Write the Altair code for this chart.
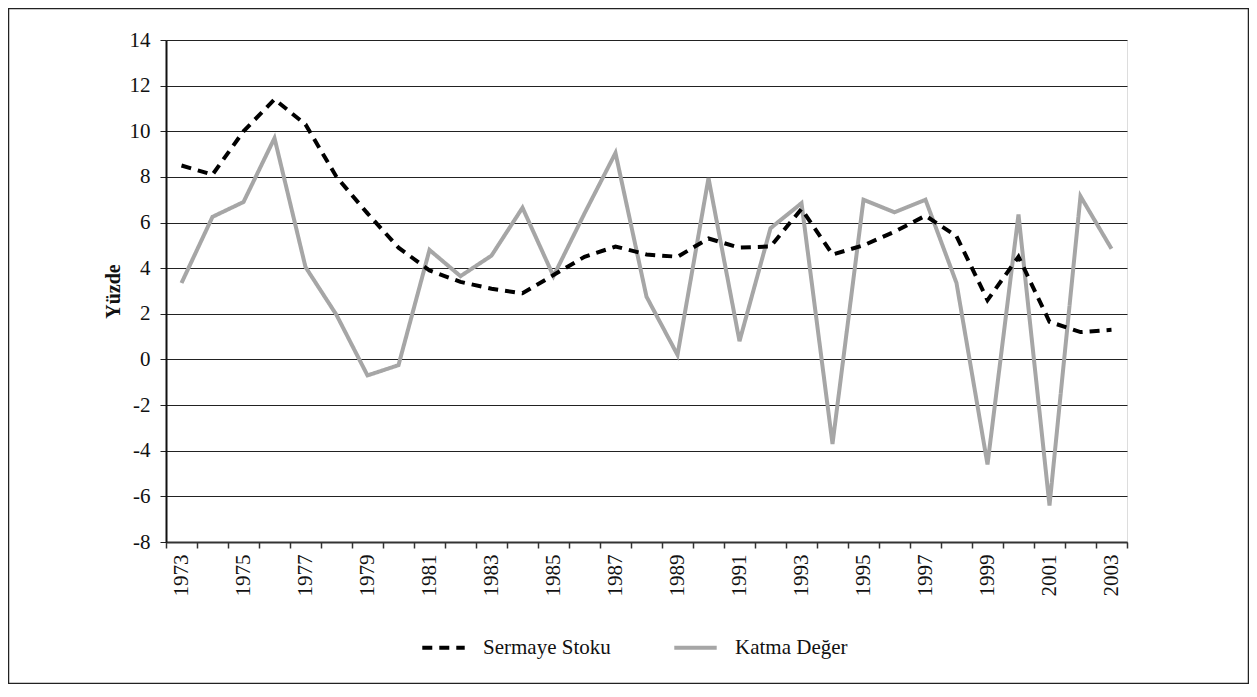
import altair as alt
import pandas as pd

years = list(range(1973, 2004))
sermaye_stoku = [8.5, 8.1, 10.0, 11.4, 10.3, 8.0, 6.4, 4.9, 3.9, 3.4, 3.1, 2.9, 3.7, 4.5, 4.95, 4.6,
                 4.5, 5.3, 4.9, 4.95, 6.6, 4.6, 5.0, 5.6, 6.3, 5.4, 2.6, 4.5, 1.65, 1.2, 1.3]
katma_deger = [3.35, 6.25, 6.9, 9.7, 4.05, 1.95, -0.7, -0.25, 4.8, 3.65, 4.55, 6.65, 3.65, 6.4, 9.05, 2.75,
               0.2, 7.95, 0.8, 5.75, 6.85, -3.7, 7.0, 6.45, 7.0, 3.35, -4.6, 6.35, -6.4, 7.15, 4.85]
series_names = ["Sermaye Stoku", "Katma Değer"]
y_ticks = list(range(-8, 15, 2))

FONT = "Liberation Serif"

df = pd.DataFrame({
    "year": years * 2,
    "value": katma_deger + sermaye_stoku,
    "series": [series_names[1]] * len(years) + [series_names[0]] * len(years),
})

x_enc = alt.X(
    "year:O",
    bandPosition=0.5,
    scale=alt.Scale(type="band", paddingInner=0, paddingOuter=0),
    axis=alt.Axis(
        title=None,
        tickBand="extent",
        labelAngle=270,
        labelExpr="datum.value % 2 == 1 ? '' + datum.value : ''",
        labelFont=FONT, labelFontSize=21, labelColor="#111",
        labelPadding=6, tickSize=6, tickColor="#333", tickWidth=1.5,
        domainColor="#333", domainWidth=2, grid=False,
    ),
)
y_enc = alt.Y(
    "value:Q",
    scale=alt.Scale(domain=[-8, 14], nice=False, zero=False),
    axis=alt.Axis(
        title="Yüzde", titleFont=FONT, titleFontSize=20, titleFontWeight="bold",
        titleColor="#111", titlePadding=6,
        values=y_ticks, labelExpr="'' + datum.value",
        labelFont=FONT, labelFontSize=21, labelColor="#111", labelPadding=10,
        tickSize=6, tickColor="#222", domainColor="#111", domainWidth=2,
        grid=True, gridColor="#222", gridWidth=1,
    ),
)
color_enc = alt.Color(
    "series:N", title=None,
    scale=alt.Scale(domain=series_names, range=["#000000", "#a6a6a6"]),
    legend=alt.Legend(
        orient="none", legendX=254, legendY=584, direction="horizontal",
        symbolType="stroke", symbolSize=1800, symbolStrokeWidth=4,
        labelFont=FONT, labelFontSize=21, labelColor="#111", labelOffset=16,
        columnPadding=55, labelLimit=300,
    ),
)
dash_enc = alt.StrokeDash(
    "series:N", title=None,
    scale=alt.Scale(domain=series_names, range=[[10, 7], [1, 0]]),
)

base = alt.Chart(df)
gray_line = base.transform_filter(alt.datum.series == series_names[1]).mark_line(
    strokeWidth=4, strokeCap="butt", strokeJoin="miter"
).encode(x=x_enc, y=y_enc, color=color_enc, strokeDash=dash_enc)
black_line = base.transform_filter(alt.datum.series == series_names[0]).mark_line(
    strokeWidth=4, strokeCap="butt", strokeJoin="miter"
).encode(x=x_enc, y=y_enc, color=color_enc, strokeDash=dash_enc)

frame = alt.Chart(pd.DataFrame({"f": [0]})).mark_rect(
    fill=None, stroke="#222", strokeWidth=1.5
).encode(
    x=alt.value(-157.5), x2=alt.value(1082.5),
    y=alt.value(-31.5), y2=alt.value(643.5),
)

chart = alt.layer(frame, gray_line, black_line).properties(
    width=961, height=502,
    autosize=alt.AutoSizeParams(type="none"),
    padding={"left": 158, "top": 32, "right": 122, "bottom": 142},
).configure_view(stroke=None).configure(background="white")

chart.save("out.html", embed_options={"renderer": "svg", "actions": False})
